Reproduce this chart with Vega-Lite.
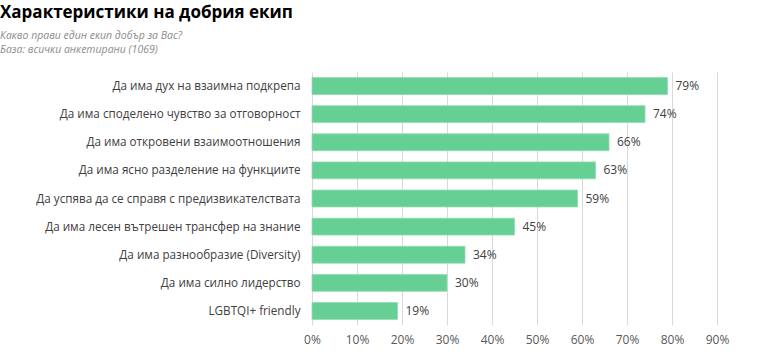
{
  "$schema": "https://vega.github.io/schema/vega-lite/v6.json",
  "autosize": {"type": "none"},
  "padding": {"left": 312, "top": 72, "right": 51, "bottom": 37},
  "width": 405,
  "height": 253,
  "background": "white",
  "title": {
    "text": "Характеристики на добрия екип",
    "subtitle": ["Какво прави един екип добър за Вас?", "База: всички анкетирани (1069)"],
    "anchor": "start",
    "frame": "group",
    "dx": -312,
    "offset": 16,
    "font": "Open Sans",
    "fontSize": 17,
    "fontWeight": "bold",
    "color": "#000000",
    "subtitleFont": "Open Sans",
    "subtitleFontSize": 10.5,
    "subtitleFontStyle": "italic",
    "subtitleColor": "#8c8c8c",
    "subtitlePadding": 9,
    "subtitleLineHeight": 14
  },
  "data": {
    "values": [
      {"item": "Да има дух на взаимна подкрепа", "value": 0.79},
      {"item": "Да има споделено чувство за отговорност", "value": 0.74},
      {"item": "Да има откровени взаимоотношения", "value": 0.66},
      {"item": "Да има ясно разделение на функциите", "value": 0.63},
      {"item": "Да успява да се справя с предизвикателствата", "value": 0.59},
      {"item": "Да има лесен вътрешен трансфер на знание", "value": 0.45},
      {"item": "Да има разнообразие (Diversity)", "value": 0.34},
      {"item": "Да има силно лидерство", "value": 0.30},
      {"item": "LGBTQI+ friendly", "value": 0.19}
    ]
  },
  "encoding": {
    "y": {
      "field": "item",
      "type": "nominal",
      "sort": null,
      "title": null,
      "scale": {"paddingInner": 0.4, "paddingOuter": 0.2},
      "axis": {
        "domain": false,
        "ticks": false,
        "labelPadding": 12,
        "labelFont": "Open Sans",
        "labelFontSize": 11.7,
        "labelColor": "#404040",
        "labelLimit": 320
      }
    },
    "x": {
      "field": "value",
      "type": "quantitative",
      "title": null,
      "scale": {"domain": [0, 0.9], "nice": false},
      "axis": {
        "format": ".0%",
        "values": [0, 0.1, 0.2, 0.3, 0.4, 0.5, 0.6, 0.7, 0.8, 0.9],
        "domain": false,
        "ticks": false,
        "grid": true,
        "gridColor": "#d9d9d9",
        "labelFlush": false,
        "labelPadding": 9,
        "labelFont": "Open Sans",
        "labelFontSize": 12,
        "labelColor": "#595959"
      }
    }
  },
  "layer": [
    {"mark": {"type": "bar", "color": "#66cf93", "stroke": "#8fdcb0", "strokeWidth": 0.8}},
    {
      "mark": {"type": "text", "align": "left", "dx": 8, "font": "Open Sans", "fontSize": 12, "color": "#404040"},
      "encoding": {"text": {"field": "value", "type": "quantitative", "format": ".0%"}}
    }
  ],
  "config": {"view": {"stroke": null}}
}
